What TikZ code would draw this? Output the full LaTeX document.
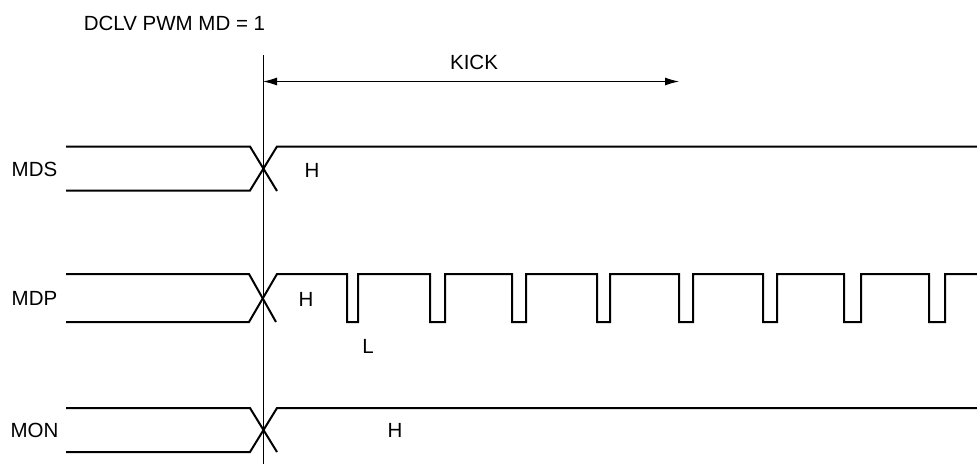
\documentclass[tikz,border=0pt]{standalone}
\usepackage{fontspec}
\setmainfont{Liberation Sans}
\usetikzlibrary{arrows.meta}

\begin{document}
\begin{tikzpicture}[x=1pt,y=-1pt]
\tikzstyle{every node}+=[inner sep=0pt, font=\fontsize{20.5}{24}\selectfont]
\tikzstyle{wave}=[black, line width=2pt, line join=miter]
\useasboundingbox (0,0) rectangle (977,464);
% title and marker line
\node (title) at (174.5,23) {DCLV PWM MD = 1};
\draw [black, line width=0.8pt] (263,55) -- (263,464);
% kick period
\draw [black, line width=1pt, {Latex[length=14pt,width=8pt]}-{Latex[length=14pt,width=8pt]}] (263,81.5) -- (679,81.5);
\node (kick) at (474,62) {KICK};
% MDS
\node (mds) at (34.5,169) {MDS};
\draw [wave] (66,146.5) -- (250,146.5) -- (277,191);
\draw [wave] (66,190.5) -- (250,190.5) -- (277,146.5) -- (977,146.5);
\node (mdsh) at (312,170) {H};
% MDP
\node (mdp) at (34.5,298) {MDP};
\draw [wave] (66,274) -- (249,274) -- (276,322);
\draw [wave] (66,322) -- (249,322) -- (277,274)
  -- (347,274) -- (347,322) -- (358,322) -- (358,274)
  -- (430,274) -- (430,322) -- (445,322) -- (445,274)
  -- (512,274) -- (512,322) -- (526,322) -- (526,274)
  -- (597,274) -- (597,322) -- (610,322) -- (610,274)
  -- (679,274) -- (679,322) -- (693,322) -- (693,274)
  -- (763,274) -- (763,322) -- (777,322) -- (777,274)
  -- (844,274) -- (844,322) -- (861,322) -- (861,274)
  -- (929,274) -- (929,322) -- (945,322) -- (945,274) -- (977,274);
\node (mdph) at (306,299) {H};
\node (mdpl) at (368,346) {L};
% MON
\node (mon) at (34.5,430) {MON};
\draw [wave] (66,408) -- (250,408) -- (277,452);
\draw [wave] (66,452) -- (250,452) -- (277,408) -- (977,408);
\node (monh) at (395,430) {H};
\end{tikzpicture}
\end{document}
